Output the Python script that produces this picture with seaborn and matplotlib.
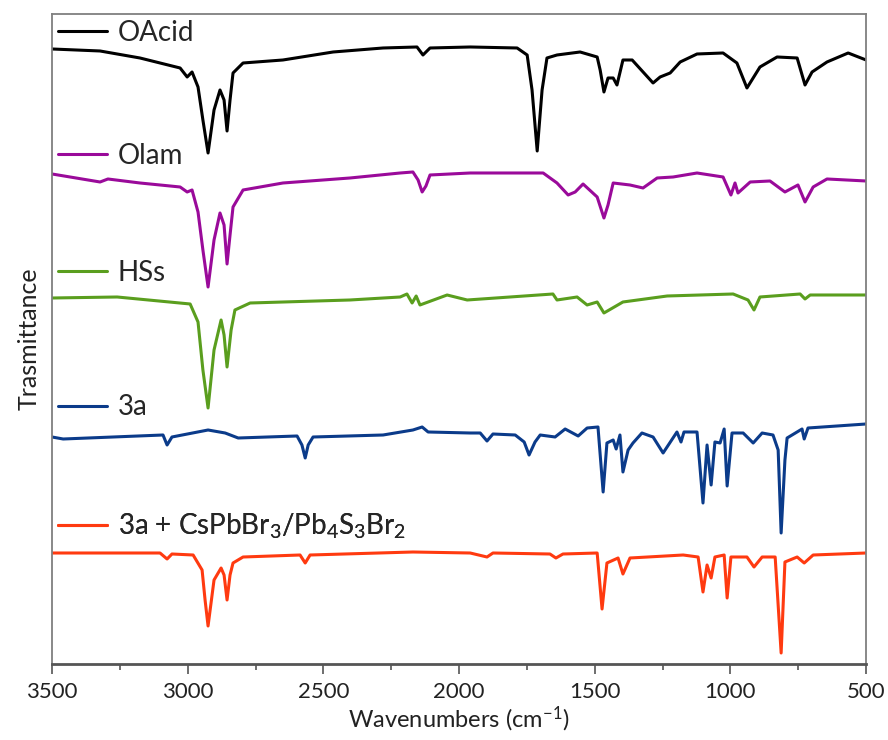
import matplotlib
matplotlib.use('Agg')
import matplotlib.pyplot as plt
import seaborn as sns
from matplotlib.ticker import MultipleLocator


# FTIR spectra (wavenumber in cm-1, transmittance in arbitrary stacked units)
oacid_wn = [3500, 3323, 3176, 3028, 3002, 2984, 2962, 2944, 2925, 2903, 2881, 2866, 2855, 2844, 2833,
            2796, 2649, 2464, 2280, 2155, 2133, 2107, 1959, 1786, 1749, 1731, 1712, 1694, 1676, 1639,
            1554, 1491, 1480, 1466, 1451, 1432, 1418, 1396, 1362, 1285, 1259, 1222, 1185, 1123, 1027,
            976, 939, 891, 828, 754, 725, 699, 644, 566, 500]
oacid_t = [615, 613, 606, 596, 587, 592, 577, 544, 511, 554, 574, 564, 533, 564, 591,
           601, 604, 612, 616, 617, 609, 616, 617, 616, 609, 574, 513, 574, 606, 609,
           612, 607, 594, 572, 586, 586, 579, 604, 604, 581, 587, 591, 602, 610, 611,
           601, 576, 597, 607, 606, 579, 592, 602, 611, 604]

olam_wn = [3500, 3323, 3294, 3176, 3028, 3002, 2984, 2962, 2944, 2925, 2903, 2881, 2866, 2855, 2844,
           2833, 2796, 2649, 2402, 2217, 2170, 2151, 2136, 2122, 2107, 1959, 1690, 1639, 1598, 1572,
           1543, 1491, 1466, 1451, 1432, 1370, 1322, 1270, 1211, 1123, 1027, 998, 983, 972, 927,
           854, 799, 751, 725, 695, 644, 500]
olam_t = [490, 482, 485, 481, 477, 472, 474, 452, 414, 377, 424, 451, 439, 400, 429,
          457, 474, 481, 486, 491, 492, 484, 472, 478, 489, 491, 491, 481, 469, 472,
          480, 467, 446, 459, 481, 479, 476, 486, 487, 491, 487, 469, 481, 471, 482,
          483, 472, 479, 462, 477, 485, 483]

hss_wn = [3500, 3260, 2991, 2962, 2944, 2925, 2903, 2877, 2866, 2855, 2840, 2826, 2770, 2402, 2217,
          2192, 2173, 2158, 2144, 2044, 1970, 1654, 1639, 1565, 1528, 1491, 1466, 1396, 1233, 990,
          935, 913, 891, 743, 725, 706, 500]
hss_t = [366, 367, 360, 342, 294, 256, 314, 344, 329, 297, 334, 354, 361, 364, 367,
         370, 361, 368, 359, 369, 364, 370, 364, 367, 359, 362, 351, 362, 368, 370,
         364, 354, 367, 370, 365, 369, 369]

s3a_wn = [3500, 3459, 3091, 3076, 3058, 2925, 2862, 2814, 2597, 2579, 2567, 2556, 2538, 2280, 2170,
          2136, 2114, 1959, 1922, 1897, 1875, 1793, 1760, 1742, 1720, 1701, 1646, 1609, 1561, 1528,
          1488, 1469, 1455, 1432, 1421, 1407, 1396, 1377, 1359, 1326, 1285, 1248, 1197, 1182, 1171,
          1123, 1101, 1086, 1071, 1057, 1038, 1023, 1012, 994, 953, 916, 883, 843, 824, 813,
          799, 791, 736, 728, 714, 500]
s3a_t = [227, 225, 229, 219, 227, 234, 231, 226, 228, 219, 206, 219, 227, 229, 234,
         237, 232, 231, 231, 223, 230, 229, 222, 209, 222, 229, 227, 235, 228, 236,
         237, 172, 221, 224, 215, 229, 192, 214, 221, 231, 227, 211, 232, 222, 232,
         232, 161, 219, 179, 222, 221, 235, 178, 231, 231, 221, 231, 229, 214, 131,
         204, 226, 235, 225, 236, 240]

mix_wn = [3500, 3102, 3076, 3058, 2980, 2947, 2936, 2925, 2903, 2877, 2866, 2855, 2844, 2833, 2796,
          2586, 2567, 2549, 2170, 1959, 1897, 1875, 1665, 1643, 1617, 1491, 1473, 1455, 1414, 1396,
          1370, 1174, 1119, 1101, 1086, 1071, 1057, 1023, 1012, 998, 939, 913, 883, 835, 813,
          799, 754, 728, 695, 500]
mix_t = [111, 111, 105, 110, 109, 94, 64, 38, 84, 96, 89, 64, 89, 101, 107,
         109, 101, 109, 112, 111, 107, 111, 110, 106, 110, 111, 55, 101, 106, 90,
         106, 109, 107, 72, 99, 86, 107, 109, 66, 107, 107, 97, 107, 107, 11,
         102, 107, 101, 109, 111]

labels = ['OAcid', 'Olam', 'HSs', '3a',
          '3a + CsPbBr$\\mathregular{_3}$/Pb$\\mathregular{_4}$S$\\mathregular{_3}$Br$\\mathregular{_2}$']
colors = ['#000000', '#9a0a9a', '#5a9e1e', '#0b3b8a', '#ff3a10']
label_y = [0.971, 0.7815, 0.6015, 0.395, 0.212]

sns.set_style('white')
plt.rcParams['font.family'] = ['Lato', 'DejaVu Sans']
plt.rcParams['mathtext.fontset'] = 'custom'
plt.rcParams['mathtext.rm'] = 'Lato'

fig = plt.figure(figsize=(8.88, 7.40), dpi=100)
ax = fig.add_axes([0.0586, 0.1027, 0.9167, 0.8784])

series = [(oacid_wn, oacid_t), (olam_wn, olam_t), (hss_wn, hss_t), (s3a_wn, s3a_t), (mix_wn, mix_t)]
for (wn, t), lab, col, ly in zip(series, labels, colors, label_y):
    sns.lineplot(x=wn, y=t, color=col, linewidth=2.2, ax=ax, estimator=None,
                 solid_joinstyle='round', solid_capstyle='round')
    line = ax.lines[-1]
    leg = ax.legend([line], [lab], loc='center left', bbox_to_anchor=(0.0074, ly),
                    frameon=False, fontsize=20, handlelength=1.75, handletextpad=0.4,
                    borderpad=0, borderaxespad=0)
    ax.add_artist(leg)

ax.set_xlim(3500, 500)
ax.set_ylim(0, 650)
ax.xaxis.set_major_locator(MultipleLocator(500))
ax.xaxis.set_minor_locator(MultipleLocator(250))
ax.set_yticks([])
ax.tick_params(axis='x', which='major', direction='out', length=7, width=1.2, color='#555555',
               labelsize=16, labelcolor='#222222', bottom=True, pad=6)
ax.tick_params(axis='x', which='minor', direction='out', length=4, width=1.2, color='#555555', bottom=True)
for sp in ax.spines.values():
    sp.set_color('#7f7f7f')
    sp.set_linewidth(1.3)
ax.spines['bottom'].set_color('#555555')
ax.spines['bottom'].set_linewidth(2.0)

ax.set_xlabel('Wavenumbers (cm$\\mathregular{^{-1}}$)', fontsize=17, color='#222222', labelpad=2)
ax.set_ylabel('Trasmittance', fontsize=18, color='#222222', labelpad=8)

fig.savefig('out.png', dpi=100)
